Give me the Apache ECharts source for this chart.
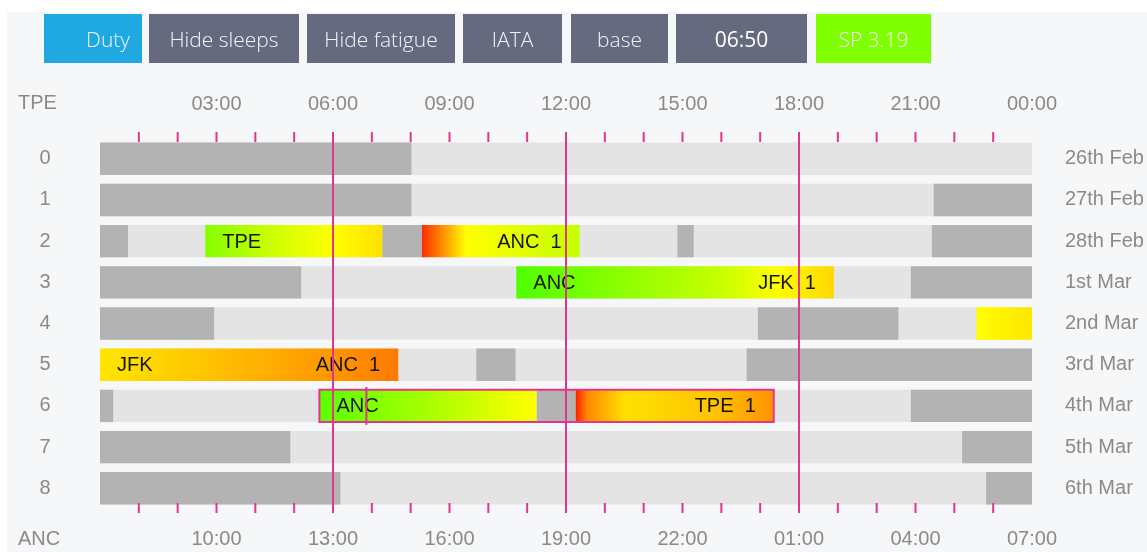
<!DOCTYPE html>
<html>
<head>
<meta charset="utf-8">
<script src="https://cdn.jsdelivr.net/npm/echarts@6/dist/echarts.min.js"></script>
<style>
html,body{margin:0;padding:0;background:#ffffff;width:1147px;height:552px;overflow:hidden}
#panel{position:absolute;left:7px;top:12px;right:0;bottom:0;background:#f6f7f9}
#chart{position:absolute;left:0;top:0;width:1147px;height:552px}
</style>
</head>
<body>
<div id="panel"></div>
<div id="chart"></div>
<script>
// ---------- data ----------
const rowLabels = ['0', '1', '2', '3', '4', '5', '6', '7', '8'];
const dateLabels = ['26th Feb', '27th Feb', '28th Feb', '1st Mar', '2nd Mar', '3rd Mar', '4th Mar', '5th Mar', '6th Mar'];
const labelHours = [3, 6, 9, 12, 15, 18, 21, 24];
const topTimeLabels = ['03:00', '06:00', '09:00', '12:00', '15:00', '18:00', '21:00', '00:00'];
const bottomTimeLabels = ['10:00', '13:00', '16:00', '19:00', '22:00', '01:00', '04:00', '07:00'];
const tickHours = [1, 2, 3, 4, 5, 6, 7, 8, 9, 10, 11, 12, 13, 14, 15, 16, 17, 18, 19, 20, 21, 22, 23];
const guideHours = [6, 12, 18];
const dayStart = 0;
const dayEnd = 24;
const topZoneName = 'TPE';
const bottomZoneName = 'ANC';

// sleep blocks: [row, startHour, endHour]
const sleepBlocks = [
  [0, 0, 8.02],
  [1, 0, 8.02], [1, 21.47, 24],
  [2, 0, 0.72], [2, 7.27, 8.29], [2, 14.87, 15.29], [2, 21.42, 24],
  [3, 0, 5.18], [3, 20.88, 24],
  [4, 0, 2.94], [4, 16.94, 20.56],
  [5, 9.69, 10.70], [5, 16.65, 24],
  [6, 0, 0.34], [6, 11.24, 12.25], [6, 20.88, 24],
  [7, 0, 4.9], [7, 22.2, 24],
  [8, 0, 6.19], [8, 22.82, 24]
];
// duty segments: [row, startHour, endHour, fromLabel, toLabel, gradientKey]
const dutyBlocks = [
  [2, 2.71, 7.27, 'TPE', '', 'a'],
  [2, 8.29, 12.35, '', 'ANC  1', 'b'],
  [3, 10.72, 18.9, 'ANC', 'JFK  1', 'c'],
  [4, 22.57, 24, '', '', 'd'],
  [5, 0, 7.68, 'JFK', 'ANC  1', 'e'],
  [6, 5.65, 11.24, 'ANC', '', 'f'],
  [6, 12.25, 17.35, '', 'TPE  1', 'g']
];
// selected duty frame: [row, startHour, endHour]
const dutyFrames = [[6, 5.65, 17.35]];
// marker: [row, hour]
const markerTimes = [[6, 6.86]];
const buttonLabels = ['Duty', 'Hide sleeps', 'Hide fatigue', 'IATA', 'base', '06:50', 'SP 3.19'];

// ---------- styles ----------
const PINK = '#e2368c';
const LIGHT = '#e4e4e4';
const DARK = '#b3b3b3';
const AXIS_TEXT = '#8a8a8a';
const FONT = '"Liberation Sans", Arial, sans-serif';
const gradientStops = {
  a: [[0, '#86ff00'], [0.45, '#d8ff00'], [0.72, '#ffff00'], [1, '#ffe000']],
  b: [[0, '#ff2a00'], [0.06, '#ff5a00'], [0.28, '#ffff00'], [1, '#c4ff00']],
  c: [[0, '#50ff00'], [0.35, '#90ff00'], [0.65, '#c8ff00'], [0.82, '#ffff00'], [1, '#ffd600']],
  d: [[0, '#ffff00'], [1, '#ffe600']],
  e: [[0, '#ffe600'], [0.4, '#ffbf00'], [0.8, '#ff9400'], [1, '#ff7a00']],
  f: [[0, '#5aff00'], [0.5, '#a8ff00'], [1, '#ffff00']],
  g: [[0, '#ff2000'], [0.06, '#ff8a00'], [0.25, '#ffe000'], [0.7, '#ffc400'], [1, '#ff9200']]
};
const buttonBoxes = [[44, 142], [149, 299], [307, 455], [463, 562], [571, 668], [676, 807], [816, 931]];
const buttonFills = ['#1fa8e1', '#666a7e', '#666a7e', '#666a7e', '#666a7e', '#666a7e', '#7fff00'];
const BAR_RATIO = 0.785;
const TICK_LEN = 10;

function grad(key) {
  return new echarts.graphic.LinearGradient(0, 0, 1, 0,
    gradientStops[key].map(s => ({ offset: s[0], color: s[1] })));
}

function rectOf(api, startV, endV, rowV, ratio) {
  const s = api.coord([startV, rowV]);
  const e = api.coord([endV, rowV]);
  const h = api.size([0, 1])[1] * ratio;
  return { x: s[0], y: s[1] - h / 2, width: e[0] - s[0], height: h };
}

const rowIdx = rowLabels.map((_, i) => i);

const option = {
  animation: false,
  backgroundColor: 'transparent',
  grid: { left: 100, right: 115, top: 132, bottom: 39 },
  xAxis: [
    {
      type: 'value', position: 'top', min: dayStart, max: dayEnd,
      axisLine: { show: false }, splitLine: { show: false }, axisTick: { show: false },
      axisLabel: {
        customValues: labelHours, color: AXIS_TEXT, fontSize: 20, fontFamily: FONT, margin: 18,
        formatter: v => topTimeLabels[labelHours.indexOf(v)] || ''
      }
    },
    {
      type: 'value', position: 'bottom', min: dayStart, max: dayEnd,
      axisLine: { show: false }, splitLine: { show: false }, axisTick: { show: false },
      axisLabel: {
        customValues: labelHours, color: AXIS_TEXT, fontSize: 20, fontFamily: FONT, margin: 16,
        formatter: v => bottomTimeLabels[labelHours.indexOf(v)] || ''
      }
    }
  ],
  yAxis: [
    {
      type: 'value', inverse: true, min: -0.65, max: 8.6, position: 'left',
      axisLine: { show: false }, splitLine: { show: false }, axisTick: { show: false },
      axisLabel: {
        customValues: rowIdx, color: AXIS_TEXT, fontSize: 20, fontFamily: FONT, align: 'center', margin: 55,
        formatter: v => rowLabels[v]
      }
    },
    {
      type: 'value', inverse: true, min: -0.65, max: 8.6, position: 'right',
      axisLine: { show: false }, splitLine: { show: false }, axisTick: { show: false },
      axisLabel: {
        customValues: rowIdx, color: AXIS_TEXT, fontSize: 20, fontFamily: FONT, align: 'left', margin: 33,
        formatter: v => dateLabels[v]
      }
    }
  ],
  graphic: [
    { type: 'text', left: 18, top: 93, style: { text: topZoneName, fill: AXIS_TEXT, fontSize: 20, fontFamily: FONT } },
    { type: 'text', left: 18, top: 529, style: { text: bottomZoneName, fill: AXIS_TEXT, fontSize: 20, fontFamily: FONT } }
  ].concat(buttonLabels.map((lab, i) => {
    const b = buttonBoxes[i];
    const isFirst = i === 0;
    return {
      type: 'group', left: b[0], top: 14,
      children: [
        { type: 'rect', shape: { x: 0, y: 0, width: b[1] - b[0], height: 49 }, style: { fill: buttonFills[i] } },
        {
          type: 'text',
          style: {
            text: lab, x: isFirst ? (b[1] - b[0] - 12) : (b[1] - b[0]) / 2, y: 27,
            align: isFirst ? 'right' : 'center', verticalAlign: 'middle',
            fill: lab === '06:50' ? '#ffffff' : '#f4f4f8', fontSize: 21, fontFamily: '"Open Sans", sans-serif',
            fontWeight: lab === '06:50' ? 'normal' : 300
          }
        }
      ]
    };
  })),
  series: [
    {
      type: 'custom', name: 'rows', xAxisIndex: 0, yAxisIndex: 0, z: 2,
      encode: { x: [0, 1], y: 2 },
      data: rowIdx.map(r => [dayStart, dayEnd, r]),
      renderItem: (params, api) => ({
        type: 'rect', shape: rectOf(api, api.value(0), api.value(1), api.value(2), BAR_RATIO),
        style: { fill: LIGHT }
      })
    },
    {
      type: 'custom', name: 'sleeps', xAxisIndex: 0, yAxisIndex: 0, z: 3,
      encode: { x: [0, 1], y: 2 },
      data: sleepBlocks.map(d => [d[1], d[2], d[0]]),
      renderItem: (params, api) => ({
        type: 'rect', shape: rectOf(api, api.value(0), api.value(1), api.value(2), BAR_RATIO),
        style: { fill: DARK }
      })
    },
    {
      type: 'custom', name: 'duties', xAxisIndex: 0, yAxisIndex: 0, z: 4,
      encode: { x: [0, 1], y: 2 },
      data: dutyBlocks.map(d => [d[1], d[2], d[0]]),
      renderItem: (params, api) => {
        const d = dutyBlocks[params.dataIndex];
        const r = rectOf(api, api.value(0), api.value(1), api.value(2), BAR_RATIO);
        const cy = r.y + r.height / 2;
        const children = [{ type: 'rect', shape: r, style: { fill: grad(d[5]) } }];
        if (d[3]) children.push({ type: 'text', style: { text: d[3], x: r.x + 17, y: cy + 1, align: 'left', verticalAlign: 'middle', fill: '#151515', fontSize: 20, fontFamily: FONT } });
        if (d[4]) children.push({ type: 'text', style: { text: d[4], x: r.x + r.width - 18, y: cy + 1, align: 'right', verticalAlign: 'middle', fill: '#151515', fontSize: 20, fontFamily: FONT } });
        return { type: 'group', children };
      }
    },
    {
      type: 'custom', name: 'frames', xAxisIndex: 0, yAxisIndex: 0, z: 5,
      encode: { x: [0, 1], y: 2 },
      data: dutyFrames.map(d => [d[1], d[2], d[0]]),
      renderItem: (params, api) => ({
        type: 'rect', shape: rectOf(api, api.value(0), api.value(1), api.value(2), BAR_RATIO),
        style: { fill: 'none', stroke: PINK, lineWidth: 2 }
      })
    },
    {
      type: 'custom', name: 'hourTicks', xAxisIndex: 0, yAxisIndex: 0, z: 6,
      encode: { x: 0 },
      data: tickHours.map(h => [h]),
      renderItem: (params, api) => {
        const x = api.coord([api.value(0), 0])[0];
        const cs = params.coordSys;
        const top = cs.y, bot = cs.y + cs.height;
        return {
          type: 'group', children: [
            { type: 'line', shape: { x1: x, y1: top, x2: x, y2: top + TICK_LEN }, style: { stroke: PINK, lineWidth: 2 } },
            { type: 'line', shape: { x1: x, y1: bot - TICK_LEN, x2: x, y2: bot }, style: { stroke: PINK, lineWidth: 2 } }
          ]
        };
      }
    },
    {
      type: 'custom', name: 'markers', xAxisIndex: 0, yAxisIndex: 0, z: 7,
      encode: { x: 0, y: 1 },
      data: markerTimes.map(d => [d[1], d[0]]),
      renderItem: (params, api) => {
        const top = api.coord([api.value(0), api.value(1) - 0.46]);
        const bot = api.coord([api.value(0), api.value(1) + 0.46]);
        return { type: 'line', shape: { x1: top[0], y1: top[1], x2: bot[0], y2: bot[1] }, style: { stroke: PINK, lineWidth: 2 } };
      },
      markLine: {
        silent: true, symbol: ['none', 'none'], z: 10,
        label: { show: false },
        lineStyle: { color: PINK, width: 2, type: 'solid' },
        data: guideHours.map(h => ({ xAxis: h }))
      }
    }
  ]
};

const chart = echarts.init(document.getElementById('chart'), null, { renderer: 'canvas' });
chart.setOption(option);
</script>
</body>
</html>
